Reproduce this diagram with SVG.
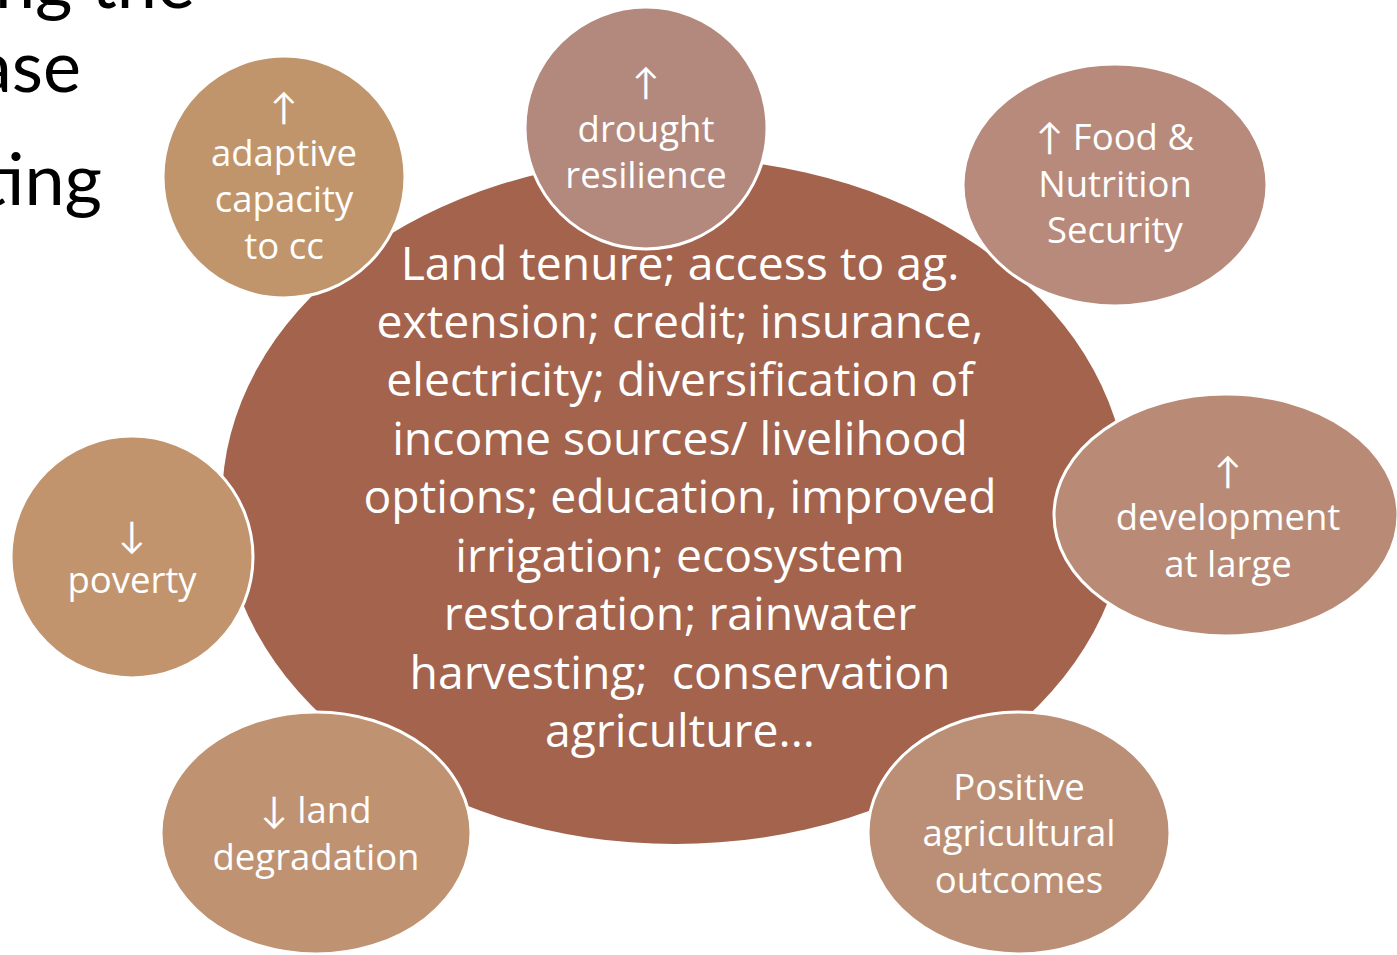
<svg xmlns="http://www.w3.org/2000/svg" width="1397" height="955" viewBox="0 0 1397 955">
<style>
.bg{font-family:Lato,"Open Sans","Liberation Sans",sans-serif;font-size:72px;fill:#000}
.main{font-family:"Open Sans",Lato,"Liberation Sans",sans-serif;font-size:46.3px;fill:#fff;text-anchor:middle;white-space:pre}
.lbl{font-family:"Open Sans",Lato,"Liberation Sans",sans-serif;font-size:36.5px;fill:#fff;text-anchor:middle}
.sat{stroke:#fff;stroke-width:3}
</style>
<rect width="1397" height="955" fill="#fff"/>
<g id="background-text">
<text class="bg" x="195" y="8" text-anchor="end">ing the</text>
<text class="bg" x="81" y="92" text-anchor="end">ase</text>
<text class="bg" x="102" y="205" text-anchor="end">ting</text>
</g>
<g id="connectors"></g>
<g id="center">
<ellipse cx="675" cy="501" rx="453" ry="343" fill="#A3634D"/>
</g>
<g id="adaptive">
<circle class="sat" cx="284" cy="177" r="121" fill="#C1956B"/>
<text class="lbl" x="284" y="120">↑</text>
<text class="lbl" x="284" y="166">adaptive</text>
<text class="lbl" x="284" y="212">capacity</text>
<text class="lbl" x="284" y="259">to cc</text>
</g>
<g id="drought">
<circle class="sat" cx="646" cy="128" r="121" fill="#B3897D"/>
<text class="lbl" x="646" y="95">↑</text>
<text class="lbl" x="646" y="142">drought</text>
<text class="lbl" x="646" y="188">resilience</text>
</g>
<g id="food">
<ellipse class="sat" cx="1115" cy="185" rx="152" ry="121" fill="#B78A7B"/>
<text class="lbl" x="1115" y="150">↑ Food &amp;</text>
<text class="lbl" x="1115" y="197">Nutrition</text>
<text class="lbl" x="1115" y="243">Security</text>
</g>
<g id="development">
<ellipse class="sat" cx="1226" cy="515" rx="172" ry="121" fill="#B98B77"/>
<text class="lbl" x="1228" y="484">↑</text>
<text class="lbl" x="1228" y="530">development</text>
<text class="lbl" x="1228" y="577">at large</text>
</g>
<g id="positive">
<ellipse class="sat" cx="1019" cy="833" rx="151" ry="121" fill="#BB8F75"/>
<text class="lbl" x="1019" y="800">Positive</text>
<text class="lbl" x="1019" y="846">agricultural</text>
<text class="lbl" x="1019" y="893">outcomes</text>
</g>
<g id="land">
<ellipse class="sat" cx="316" cy="833" rx="155" ry="121" fill="#BF9272"/>
<text class="lbl" x="316" y="823">↓ land</text>
<text class="lbl" x="316" y="870">degradation</text>
</g>
<g id="poverty">
<circle class="sat" cx="132" cy="557" r="121" fill="#C1946E"/>
<text class="lbl" x="132" y="548">↓</text>
<text class="lbl" x="132" y="593">poverty</text>
</g>
<g id="center-text">
<text class="main" x="680" y="280">Land tenure; access to ag.</text>
<text class="main" x="680" y="338">extension; credit; insurance,</text>
<text class="main" x="680" y="396">electricity; diversification of</text>
<text class="main" x="680" y="455">income sources/ livelihood</text>
<text class="main" x="680" y="513">options; education, improved</text>
<text class="main" x="680" y="572">irrigation; ecosystem</text>
<text class="main" x="680" y="630">restoration; rainwater</text>
<text class="main" x="680" y="689">harvesting;  conservation</text>
<text class="main" x="680" y="747">agriculture...</text>
</g>
</svg>
